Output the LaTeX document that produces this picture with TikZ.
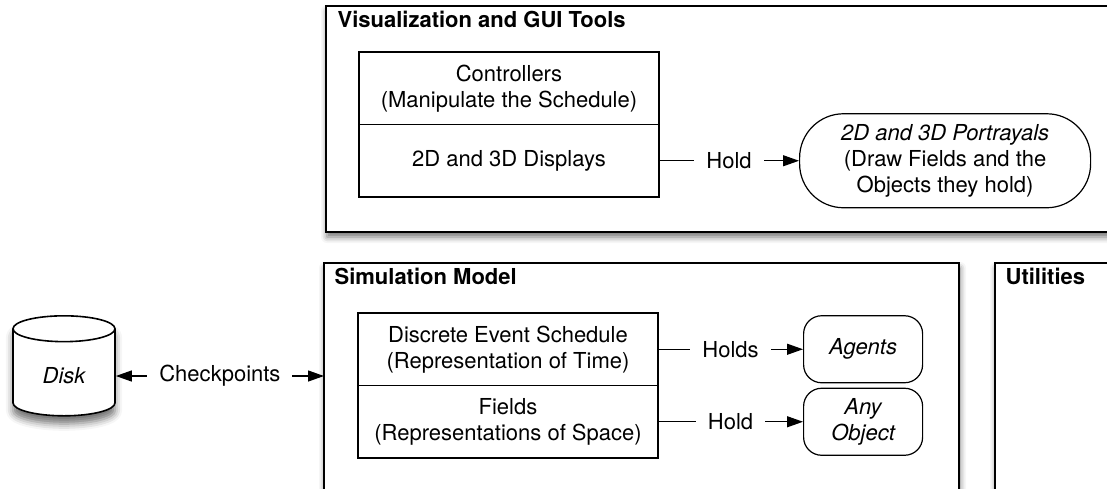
\documentclass[tikz,border=0pt]{standalone}
\usepackage{fontspec}
\setmainfont{TeX Gyre Heros}
\AtBeginDocument{\fontsize{11}{13}\selectfont}
\usetikzlibrary{arrows.meta,shapes,positioning,shadows.blur}
\tikzset{%
	>={Triangle[length=8pt,width=5.5pt]},
	frame/.style={rectangle, draw=black, line width=0.8pt, fill=white, outer sep=0pt, anchor=north west,
		blur shadow={shadow xshift=0.5pt, shadow yshift=-2.5pt, shadow blur radius=3pt, shadow opacity=55}},
	title/.style={font=\bfseries, inner sep=0pt},
	part/.style={rectangle, draw=black, outer sep=0pt, minimum width=150pt, minimum height=36.25pt, align=center},
	object/.style={rectangle, rounded corners=9pt, draw=black, minimum width=59.5pt, minimum height=33.5pt, align=center, font=\itshape},
	link/.style={fill=white, inner xsep=6pt},
	database/.style={cylinder, fill=white, shape border rotate=90, aspect=0.45, draw, line width=0.8pt,
		blur shadow={shadow xshift=0pt, shadow yshift=-4pt, shadow blur radius=3.5pt, shadow opacity=55}}
}
\begin{document}
\begin{tikzpicture}[x=0.5pt, y=-0.5pt, line width=0.6pt]
\useasboundingbox (0,0) rectangle (1107,488);
% the three layers
\node (vis) [frame, minimum width=425pt, minimum height=113pt] at (326,6) {};
\node (sim) [frame, minimum width=317.5pt, minimum height=150pt] at (324,263) {};
\node (util) [frame, minimum width=100pt, minimum height=150pt] at (995,263) {};
\node (vis_title) [title, below right=2.5pt and 5.5pt of vis.north west] {Visualization and GUI Tools};
\node (sim_title) [title, below right=2.5pt and 5pt of sim.north west] {Simulation Model};
\node (util_title) [title, below right=2.5pt and 5pt of util.north west] {Utilities};

% visualization
\node (ctrl) [part, below right=23pt and 16.5pt of vis.north west] {Controllers\\(Manipulate the Schedule)};
\node (disp) [part, below=0pt of ctrl] {2D and 3D Displays};
\node (portray) [object, rounded corners=22pt, minimum width=145.5pt, minimum height=47pt, font=\upshape, right=70pt of disp] {\textit{2D and 3D Portrayals}\\(Draw Fields and the\\Objects they hold)};

% model
\node (sched) [part, below right=25pt and 17pt of sim.north west] {Discrete Event Schedule\\(Representation of Time)};
\node (fields) [part, below=0pt of sched] {Fields\\(Representations of Space)};
\node (agents) [object, right=72.5pt of sched] {Agents};
\node (anyobj) [object, right=72.5pt of fields] {Any\\Object};

\node (disk) [database, minimum width=51pt, minimum height=50pt, font=\itshape] at (64,376) {Disk};

\draw[->] (disp) -- node[link] {Hold} (portray);
\draw[->] (sched) -- node[link] {Holds} (agents);
\draw[->] (fields) -- node[link] {Hold} (anyobj);
\draw[<->] (disk) -- node[link] {Checkpoints} (disk -| sim.west);

\end{tikzpicture}
\end{document}
